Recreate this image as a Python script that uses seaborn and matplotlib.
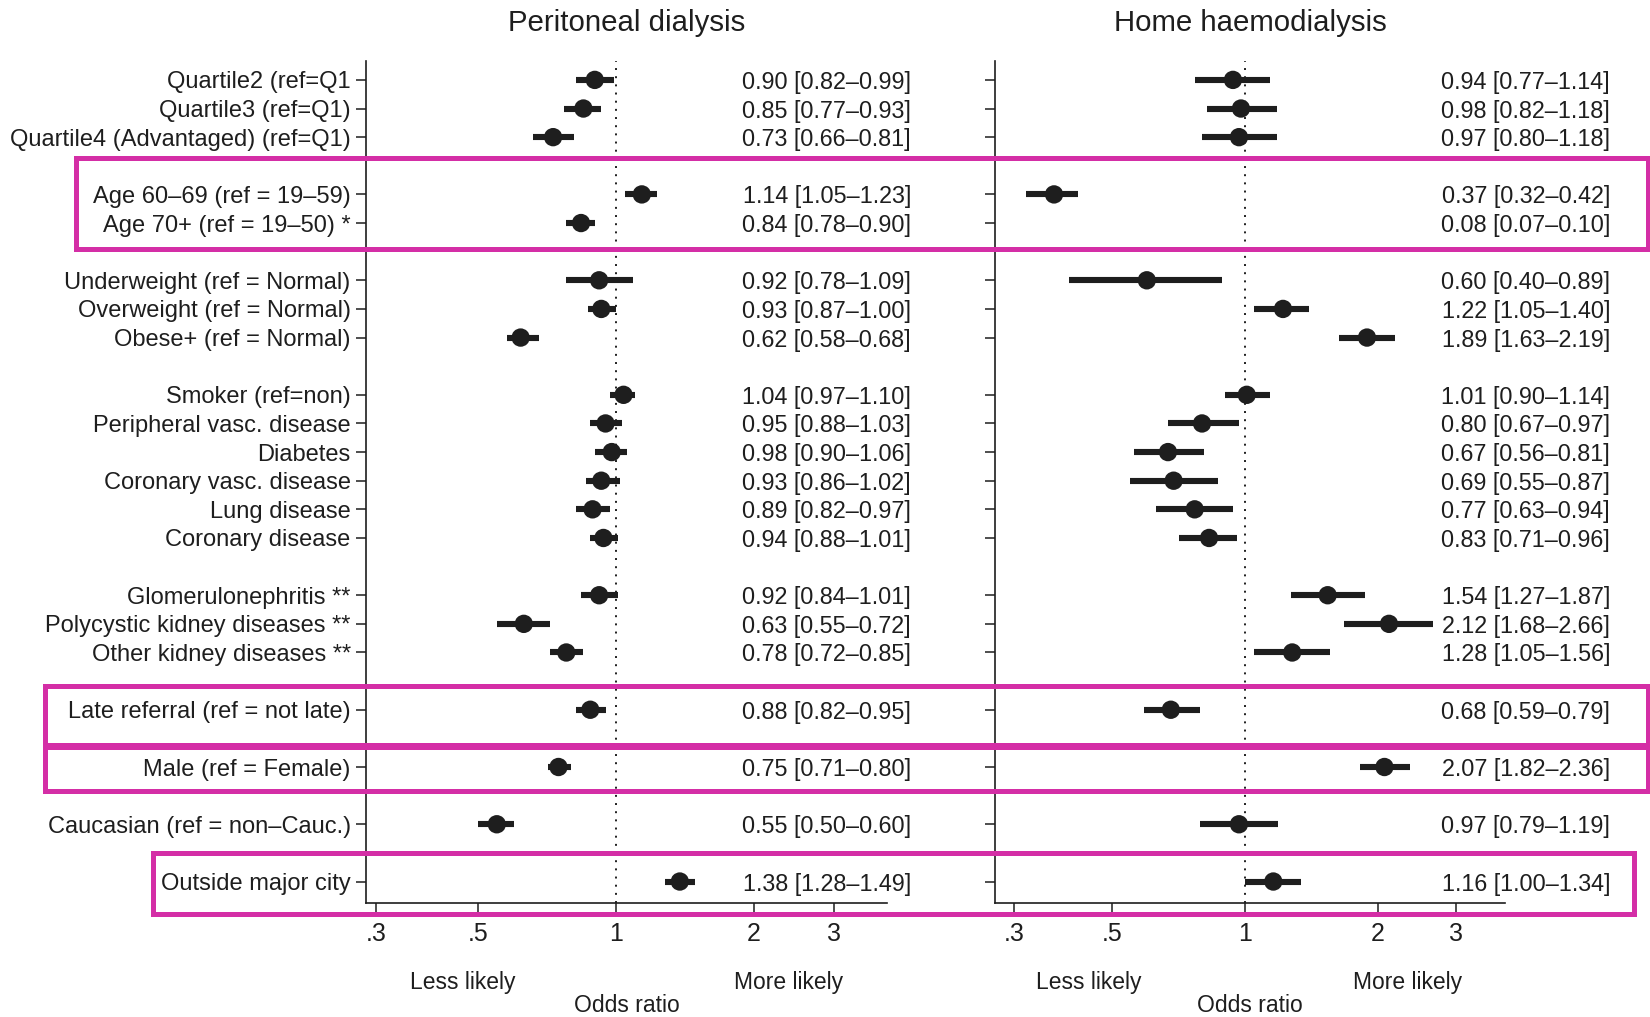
import matplotlib
matplotlib.use("Agg")
import matplotlib.pyplot as plt
import matplotlib.transforms as mtransforms
from matplotlib.patches import Rectangle
import numpy as np
import pandas as pd
import seaborn as sns

# ---- data -------------------------------------------------------------
labels = [
    "Quartile2 (ref=Q1",
    "Quartile3 (ref=Q1)",
    "Quartile4 (Advantaged) (ref=Q1)",
    "Age 60–69 (ref = 19–59)",
    "Age 70+ (ref = 19–50) *",
    "Underweight (ref = Normal)",
    "Overweight (ref = Normal)",
    "Obese+ (ref = Normal)",
    "Smoker (ref=non)",
    "Peripheral vasc. disease",
    "Diabetes",
    "Coronary vasc. disease",
    "Lung disease",
    "Coronary disease",
    "Glomerulonephritis **",
    "Polycystic kidney diseases **",
    "Other kidney diseases **",
    "Late referral (ref = not late)",
    "Male (ref = Female)",
    "Caucasian (ref = non–Cauc.)",
    "Outside major city",
]
# row slots (blank slots separate the variable groups)
rows = [0, 1, 2, 4, 5, 7, 8, 9, 11, 12, 13, 14, 15, 16, 18, 19, 20, 22, 24, 26, 28]

pd_or = [0.90, 0.85, 0.73, 1.14, 0.84, 0.92, 0.93, 0.62, 1.04, 0.95, 0.98,
         0.93, 0.89, 0.94, 0.92, 0.63, 0.78, 0.88, 0.75, 0.55, 1.38]
pd_lo = [0.82, 0.77, 0.66, 1.05, 0.78, 0.78, 0.87, 0.58, 0.97, 0.88, 0.90,
         0.86, 0.82, 0.88, 0.84, 0.55, 0.72, 0.82, 0.71, 0.50, 1.28]
pd_hi = [0.99, 0.93, 0.81, 1.23, 0.90, 1.09, 1.00, 0.68, 1.10, 1.03, 1.06,
         1.02, 0.97, 1.01, 1.01, 0.72, 0.85, 0.95, 0.80, 0.60, 1.49]

hhd_or = [0.94, 0.98, 0.97, 0.37, 0.08, 0.60, 1.22, 1.89, 1.01, 0.80, 0.67,
          0.69, 0.77, 0.83, 1.54, 2.12, 1.28, 0.68, 2.07, 0.97, 1.16]
hhd_lo = [0.77, 0.82, 0.80, 0.32, 0.07, 0.40, 1.05, 1.63, 0.90, 0.67, 0.56,
          0.55, 0.63, 0.71, 1.27, 1.68, 1.05, 0.59, 1.82, 0.79, 1.00]
hhd_hi = [1.14, 1.18, 1.18, 0.42, 0.10, 0.89, 1.40, 2.19, 1.14, 0.97, 0.81,
          0.87, 0.94, 0.96, 1.87, 2.66, 1.56, 0.79, 2.36, 1.19, 1.34]

panel_titles = ["Peritoneal dialysis", "Home haemodialysis"]
xticks = [0.3, 0.5, 1, 2, 3]
xtick_labels = [".3", ".5", "1", "2", "3"]

# highlighted row groups: (first label, last label)
highlight_groups = [
    ("Age 60–69 (ref = 19–59)", "Age 70+ (ref = 19–50) *"),
    ("Late referral (ref = not late)", "Late referral (ref = not late)"),
    ("Male (ref = Female)", "Male (ref = Female)"),
    ("Outside major city", "Outside major city"),
]

# ---- style --------------------------------------------------------------
sns.set_theme(style="ticks")
plt.rcParams["font.family"] = ["Liberation Sans", "DejaVu Sans"]
INK = "#1e1e1e"
MAGENTA = "#d42ea6"

W, H = 1650, 1017
fig = plt.figure(figsize=(W / 100, H / 100), dpi=100)
fig.patch.set_facecolor("white")

ax_pd = fig.add_axes([366 / W, 1 - 903 / H, (887 - 366) / W, (903 - 61) / H])
ax_hhd = fig.add_axes([995 / W, 1 - 903 / H, (1505 - 995) / W, (903 - 61) / H])

panels = [
    (ax_pd, pd_or, pd_lo, pd_hi, (0.285, 3.91), 1.046),
    (ax_hhd, hhd_or, hhd_lo, hhd_hi, (0.272, 3.88), 1.206),
]

for i, (ax, est, lo, hi, xlim, txt_x) in enumerate(panels):
    df = pd.DataFrame({"label": labels, "row": rows, "or": est, "lo": lo, "hi": hi})
    ax.set_xscale("log")
    ax.axvline(1, color=INK, lw=1.4, ls=(0, (1, 3.2)), zorder=1)
    ax.hlines(df["row"], df["lo"], df["hi"], color=INK, lw=4.4, zorder=2)
    sns.scatterplot(data=df, x="or", y="row", ax=ax, s=175, color=INK,
                    edgecolor="none", zorder=3, legend=False)

    ax.set_xlim(*xlim)
    ax.set_ylim(28.75, -0.66)
    ax.set_facecolor("white")
    ax.grid(False)

    ax.set_xticks(xticks)
    ax.set_xticklabels(xtick_labels, fontsize=18, color=INK)
    ax.xaxis.set_minor_locator(matplotlib.ticker.NullLocator())
    ax.set_yticks(df["row"])
    if i == 0:
        ax.set_yticklabels(df["label"], fontsize=17, color=INK)
    else:
        ax.set_yticklabels([])
    ax.tick_params(axis="y", length=7.5, width=1.1, pad=3.5, color=INK)
    ax.tick_params(axis="x", length=8, width=1.1, pad=6, color=INK)
    ax.set_xlabel("")
    ax.set_ylabel("")

    for side in ("left", "bottom"):
        ax.spines[side].set_color(INK)
        ax.spines[side].set_linewidth(1.2)
    sns.despine(ax=ax)

    # estimate and interval printed at the right of each row
    trans = mtransforms.blended_transform_factory(ax.transAxes, ax.transData)
    for r, o, l, h in zip(df["row"], df["or"], df["lo"], df["hi"]):
        ax.text(txt_x, r, f"{o:.2f} [{l:.2f}–{h:.2f}]", transform=trans,
                ha="right", va="center_baseline", fontsize=16.8, color=INK,
                clip_on=False)

# panel titles and x-axis annotations (centres in pixel units)
for cx, title, less_x, more_x in [(627, panel_titles[0], 463, 789),
                                  (1250, panel_titles[1], 1089, 1408)]:
    fig.text(cx / W, 1 - 23 / H, title, ha="center", va="center",
             fontsize=21.2, color=INK)
    fig.text(less_x / W, 1 - 983 / H, "Less likely", ha="center", va="center",
             fontsize=16.5, color=INK)
    fig.text(more_x / W, 1 - 983 / H, "More likely", ha="center", va="center",
             fontsize=16.5, color=INK)
    fig.text(cx / W, 1 - 1006 / H, "Odds ratio", ha="center", va="center",
             fontsize=16.5, color=INK)

# magenta frames around highlighted rows
box_trans = mtransforms.blended_transform_factory(fig.transFigure, ax_pd.transData)
box_extents = [  # (left px, right px, pad above first row, pad below last row)
    (75.8, 1648, 1.28, 0.92),
    (45.2, 1648, 0.82, 1.24),
    (45.2, 1648, 0.69, 0.85),
    (152.6, 1634, 1.01, 1.12),
]
for (first, last), (x0, x1, pad_top, pad_bot) in zip(highlight_groups, box_extents):
    r0 = rows[labels.index(first)] - pad_top
    r1 = rows[labels.index(last)] + pad_bot
    fig.add_artist(Rectangle((x0 / W, r0), (x1 - x0) / W, r1 - r0,
                             transform=box_trans, fill=False, ec=MAGENTA,
                             lw=3.6, clip_on=False, zorder=10))

fig.savefig("out.png", dpi=100, facecolor="white")
